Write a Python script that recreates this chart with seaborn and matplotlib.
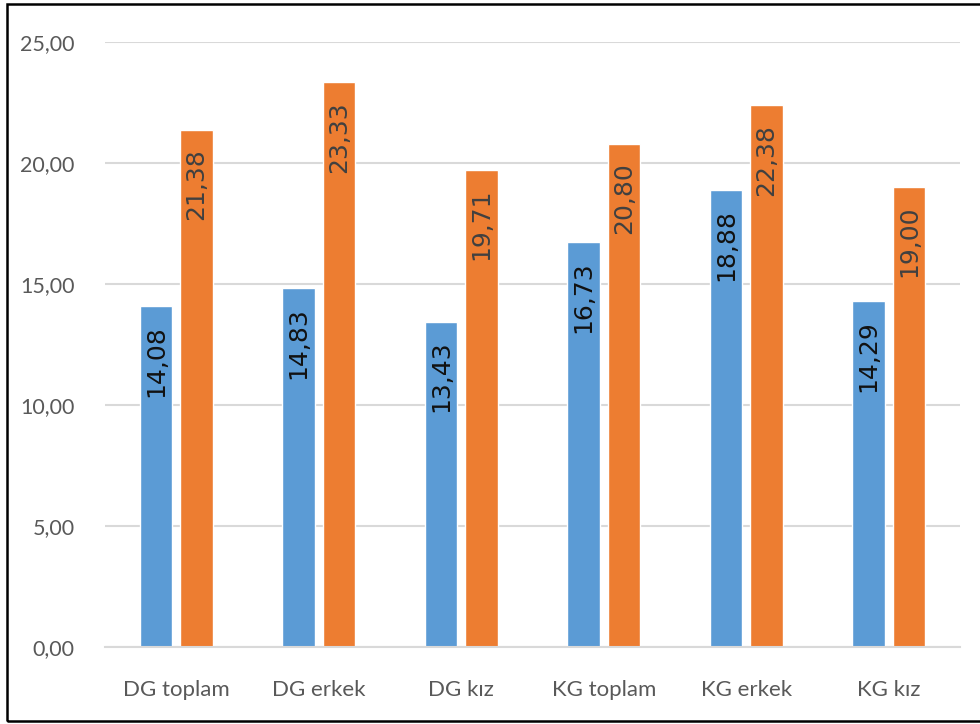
import matplotlib
matplotlib.use("Agg")
import matplotlib.pyplot as plt
from matplotlib.patches import Rectangle
from matplotlib.ticker import FuncFormatter, FixedLocator
import pandas as pd
import seaborn as sns

# Chart data
categories = ["DG toplam", "DG erkek", "DG kız", "KG toplam", "KG erkek", "KG kız"]
series_names = ["Seri 1", "Seri 2"]
series_1 = [14.08, 14.83, 13.43, 16.73, 18.88, 14.29]
series_2 = [21.38, 23.33, 19.71, 20.80, 22.38, 19.00]
colors = ["#5B9BD5", "#ED7D31"]
y_ticks = [0, 5, 10, 15, 20, 25]

df = pd.DataFrame({
    "kategori": categories * 2,
    "seri": [series_names[0]] * len(categories) + [series_names[1]] * len(categories),
    "deger": series_1 + series_2,
})

sns.set_theme(style="white")
plt.rcParams["font.family"] = ["Lato", "DejaVu Sans"]

fig = plt.figure(figsize=(9.8, 7.24), dpi=100)
ax = fig.add_axes([105 / 980, 77 / 724, 855 / 980, 605 / 724])

sns.barplot(data=df, x="kategori", y="deger", hue="seri", order=categories,
            hue_order=series_names, palette=colors, width=0.57, gap=0.2,
            saturation=1, legend=False, ax=ax, errorbar=None)

ax.set_ylim(0, 25)
ax.set_xlim(-0.5, len(categories) - 0.5)
ax.set_xlabel("")
ax.set_ylabel("")

# Axis styling
grid_col = "#D9D9D9"
text_col = "#595959"
for side in ["top", "right", "left"]:
    ax.spines[side].set_visible(False)
ax.spines["bottom"].set_color(grid_col)
ax.spines["bottom"].set_linewidth(1.5)
ax.set_axisbelow(True)
ax.yaxis.set_major_locator(FixedLocator(y_ticks))
ax.yaxis.grid(True, color=grid_col, linewidth=1.5)
ax.xaxis.grid(False)
ax.yaxis.set_major_formatter(FuncFormatter(lambda v, p: f"{v:.2f}".replace(".", ",")))
ax.tick_params(axis="y", length=0, pad=22, labelsize=15.5, labelcolor=text_col)
ax.tick_params(axis="x", which="major", length=0, pad=24, labelsize=16, labelcolor=text_col)
ax.set_xticks([i - 0.5 for i in range(len(categories) + 1)], minor=True)
ax.tick_params(axis="x", which="minor", length=8, width=1.5, color=grid_col)

# Value labels, rotated inside each bar near the top
label_colors = ["#111111", "#404040"]
for container, lc in zip(ax.containers, label_colors):
    for bar in container:
        h = bar.get_height()
        xc = bar.get_x() + bar.get_width() / 2
        ax.annotate(f"{h:.2f}".replace(".", ","), xy=(xc, h), xytext=(0, -13.5),
                    textcoords="offset points", rotation=90, ha="center", va="top",
                    fontsize=18, color=lc, family="DejaVu Sans")

# Outer frame
fig.patches.append(Rectangle((7 / 980, 3 / 724), 1.0, 717 / 724, transform=fig.transFigure,
                             fill=False, edgecolor="black", linewidth=1.8, zorder=10))

fig.savefig("out.png", dpi=100)
